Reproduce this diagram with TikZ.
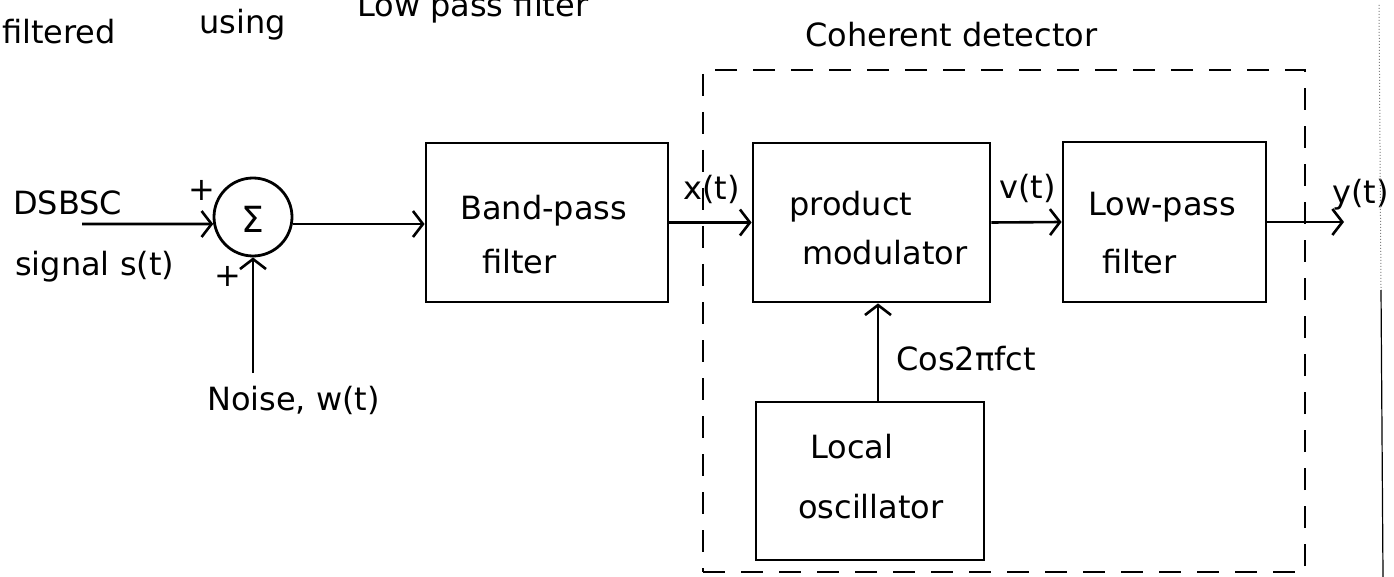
\documentclass[tikz,border=0pt]{standalone}
\usepackage{fontspec}
\setmainfont{DejaVu Sans}
\usetikzlibrary{arrows.meta}
\newcommand\hwfont{\fontsize{32}{38}\selectfont}
\begin{document}
\begin{tikzpicture}[x=1pt,y=-1pt,
  blk/.style={draw, line width=2.8pt, inner sep=0pt},
  txt/.style={font=\hwfont, inner sep=0pt, anchor=base west},
  arr/.style={line width=2.6pt, -{Straight Barb[length=10pt,width=26pt,line width=2.6pt]}},
  cdbox/.style={draw, dash pattern=on 22pt off 16pt, line width=2.8pt, inner sep=0pt}]
\useasboundingbox (0,0) rectangle (1394,577);
\fill[white] (0,0) rectangle (1394,577);

% top text
\node[txt] (t1) at (2,44) {filtered};
\node[txt] (t2) at (199,34) {using};
\node[txt] (t3) at (357,17) {Low pass filter};
\node[txt] (cdlabel) at (805,47) {Coherent detector};

% blocks
\node[cdbox, minimum width=602pt, minimum height=502pt] (cd) at (1004,321) {};
\node[blk, circle, minimum size=78pt] (sum) at (253,217) {};
\node[font=\fontsize{36}{40}\selectfont, inner sep=0pt] (sigma) at (253,219) {Σ};
\node[blk, minimum width=242pt, minimum height=159pt] (bpf) at (547,222.5) {};
\node[blk, minimum width=237pt, minimum height=159pt] (pm) at (871.5,222.5) {};
\node[blk, minimum width=203pt, minimum height=160pt] (lpf) at (1164.5,222) {};
\node[blk, minimum width=228pt, minimum height=158pt] (lo) at (870,481) {};

% block texts
\node[txt] (bp1) at (460,220) {Band-pass};
\node[txt] (bp2) at (482,273) {filter};
\node[txt] (pm1) at (789,216) {product};
\node[txt] (pm2) at (802,265) {modulator};
\node[txt] (lp1) at (1088,216) {Low-pass};
\node[txt] (lp2) at (1102,273) {filter};
\node[txt] (lo1) at (810,458) {Local};
\node[txt] (lo2) at (798,518) {oscillator};

% signal labels
\node[txt] (ds1) at (13,215) {DSBSC};
\node[txt] (ds2) at (15,276) {signal s(t)};
\node[font=\hwfont, inner sep=0pt] (p1) at (202,190) {+};
\node[font=\hwfont, inner sep=0pt] (p2) at (228,276) {+};
\node[txt] (nz) at (207,410) {Noise, w(t)};
\node[txt] (xl) at (683,200) {x(t)};
\node[txt] (vl) at (999,199) {v(t)};
\node[txt] (yl) at (1332,204) {y(t)};
\node[txt] (cosl) at (896,370) {Cos2πfct};

% connectors
\coordinate (in) at (82,224);
\coordinate (nzt) at (253,373);
\coordinate (out) at (1344,222);
\draw[arr] (in) -- (sum.190);
\draw[arr] (nzt) -- (sum.south);
\draw[arr] (sum.-10) -- (sum.-10 -| bpf.west);
\draw[arr] (bpf.east) -- (pm.west);
\draw[arr] (pm.east) -- (lpf.west);
\draw[arr] (lpf.east) -- (out);
\draw[arr] ([xshift=8pt]lo.north) -- ([xshift=8pt]lo.north |- pm.south);

% scan edge
\draw[line width=1pt, gray, dotted] (1379,5) -- (1381,290);
\draw[line width=1.2pt] (1381,290) -- (1383,577);
\end{tikzpicture}
\end{document}
